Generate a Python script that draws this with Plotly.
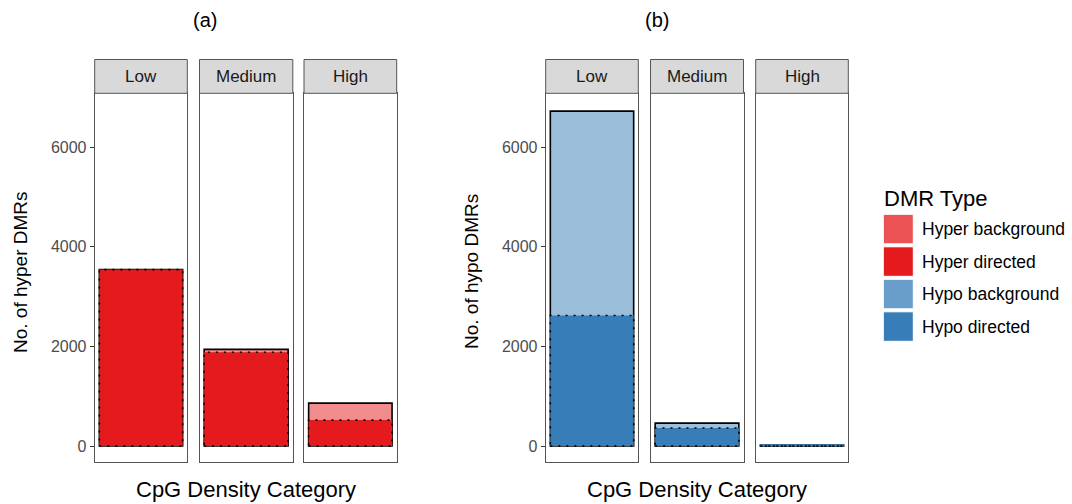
import plotly.graph_objects as go

categories = ["Low", "Medium", "High"]
hyper_background = [3540, 1940, 860]
hyper_directed = [3540, 1880, 520]
hypo_background = [6720, 460, 20]
hypo_directed = [2620, 360, 15]
y_ticks = [0, 2000, 4000, 6000]
legend_names = ["Hyper background", "Hyper directed", "Hypo background", "Hypo directed"]

C_HYPER = "#E41A1C"
C_HYPO = "#377EB8"
C_HYPER_BG = "rgba(228,26,28,0.5)"
C_HYPO_BG = "rgba(55,126,184,0.5)"
legend_colors = ["rgba(228,26,28,0.75)", C_HYPER, "rgba(55,126,184,0.75)", C_HYPO]

W, H = 1072, 504
FONT = "Liberation Sans, Arial, sans-serif"
BW = 0.9

fig = go.Figure()

panels = [
    ("(a)", 205, 20, [(94.7, 187.3), (199.5, 292.8), (304.0, 396.7)], hyper_background, hyper_directed,
     C_HYPER_BG, C_HYPER, "No. of hyper DMRs"),
    ("(b)", 657, 471, [(545.7, 638.3), (650.5, 743.5), (755.7, 848.3)], hypo_background, hypo_directed,
     C_HYPO_BG, C_HYPO, "No. of hypo DMRs"),
]

y_bot, y_top = 462.3, 93.3
strip_top = 59.5
yd = [(H - y_bot) / H, (H - y_top) / H]
YR = [-327, 7078]


def py(v):
    return (H - v) / H


ax_i = 0
layout_upd = {}
shapes = []
annotations = []
for (lab, lab_x, ytitle_x, doms, bg, dr, cbg, cdr, ytitle) in panels:
    for c_i, cat in enumerate(categories):
        ax_i += 1
        xa = "x" if ax_i == 1 else f"x{ax_i}"
        ya = "y" if ax_i == 1 else f"y{ax_i}"
        xk = "xaxis" if ax_i == 1 else f"xaxis{ax_i}"
        yk = "yaxis" if ax_i == 1 else f"yaxis{ax_i}"
        x0, x1 = doms[c_i]
        layout_upd[xk] = dict(domain=[x0 / W, x1 / W], range=[-0.5, 0.5], showticklabels=False,
                              ticks="", showgrid=False, zeroline=False, showline=True, mirror=True,
                              linecolor="#555555", linewidth=1, anchor=ya, fixedrange=True)
        first = c_i == 0
        layout_upd[yk] = dict(domain=yd, range=YR, showgrid=False, zeroline=False,
                              showline=True, mirror=True, linecolor="#555555", linewidth=1,
                              anchor=xa, tickvals=y_ticks, showticklabels=first,
                              ticks="outside" if first else "", ticklen=4, tickcolor="#333333",
                              tickwidth=1,
                              tickfont=dict(family=FONT, size=16, color="#4D4D4D"))
        # background bar
        fig.add_trace(go.Bar(x=[0], y=[bg[c_i]], width=BW, marker=dict(color=cbg,
                             line=dict(color="black", width=1.6)), xaxis=xa, yaxis=ya,
                             showlegend=False, hoverinfo="y"))
        # directed bar
        fig.add_trace(go.Bar(x=[0], y=[dr[c_i]], width=BW, marker=dict(color=cdr,
                             line=dict(width=0)), xaxis=xa, yaxis=ya,
                             showlegend=False, hoverinfo="y"))
        # dotted outline of directed bar
        h = BW / 2
        fig.add_trace(go.Scatter(x=[-h, h, h, -h, -h], y=[0, 0, dr[c_i], dr[c_i], 0], mode="lines",
                                 line=dict(color="black", width=1.6, dash="2px,6px"), xaxis=xa, yaxis=ya,
                                 showlegend=False, hoverinfo="skip"))
        # strip
        shapes.append(dict(type="rect", xref=f"{xa} domain", yref="paper", x0=0, x1=1,
                           y0=py(y_top), y1=py(strip_top),
                           fillcolor="#D9D9D9", line=dict(color="#555555", width=1)))
        annotations.append(dict(text=cat, xref=f"{xa} domain", yref="paper", x=0.5,
                                y=py((y_top + strip_top) / 2), showarrow=False,
                                font=dict(family=FONT, size=17, color="#1A1A1A"),
                                xanchor="center", yanchor="middle"))
    mid = (doms[0][0] + doms[2][1]) / 2
    annotations.append(dict(text=lab, xref="paper", yref="paper", x=lab_x / W, y=py(20),
                            showarrow=False, font=dict(family=FONT, size=20, color="#000"),
                            xanchor="center", yanchor="middle"))
    annotations.append(dict(text="CpG Density Category", xref="paper", yref="paper", x=mid / W,
                            y=py(489), showarrow=False,
                            font=dict(family=FONT, size=22, color="#000"),
                            xanchor="center", yanchor="middle"))
    annotations.append(dict(text=ytitle, xref="paper", yref="paper", x=ytitle_x / W,
                            y=py(272), textangle=-90, showarrow=False,
                            font=dict(family=FONT, size=19, color="#000"),
                            xanchor="center", yanchor="middle"))

# legend (drawn as keys + labels)
annotations.append(dict(text="DMR Type", xref="paper", yref="paper", x=882 / W, y=py(198),
                        showarrow=False, font=dict(family=FONT, size=22, color="#000"),
                        xanchor="left", yanchor="middle"))
for i, (n, c) in enumerate(zip(legend_names, legend_colors)):
    top = 214.3 + i * 32.5
    shapes.append(dict(type="rect", xref="paper", yref="paper", x0=883.3 / W, x1=913.3 / W,
                       y0=py(top + 29.5), y1=py(top), fillcolor=c, line=dict(color="white", width=1)))
    annotations.append(dict(text=n, xref="paper", yref="paper", x=919.5 / W, y=py(top + 15),
                            showarrow=False, font=dict(family=FONT, size=17.5, color="#000"),
                            xanchor="left", yanchor="middle"))

fig.update_layout(
    width=W, height=H, margin=dict(l=0, r=0, t=0, b=0),
    plot_bgcolor="white", paper_bgcolor="white",
    barmode="overlay", shapes=shapes, annotations=annotations, showlegend=False,
    **layout_upd,
)

fig.write_html("out.html")
